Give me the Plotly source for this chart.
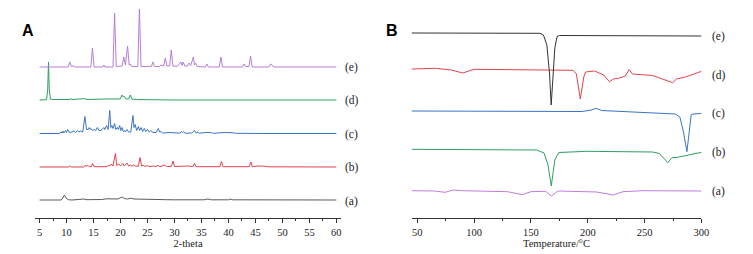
import plotly.graph_objects as go

# ---------------- Panel A: XRD patterns (2-theta, relative intensity) ----------------
xrd_a = [(5, 0), (9.0, 0), (9.3, 2), (9.6, 5), (9.9, 2), (10.3, 0.3), (11, 0), (13.25, 1), (13.6, 0.3),
         (15, 0.3), (16.5, 0.5), (17.4, 1.2), (18.5, 0.8), (19.5, 1), (20.3, 3), (20.7, 1.5), (21.3, 1),
         (21.9, 1.8), (22.5, 1), (23.6, 1), (24.5, 0.8), (25.5, 0.6), (27, 0.5), (28.5, 0.3), (30, 0.2),
         (33, 0), (35.5, 0.2), (36.2, 1), (36.8, 0.2), (40.0, 0.2), (40.3, 1), (40.7, 0.2), (60, 0)]

xrd_b = [(5, 0), (10.3, 0), (10.6, 1), (10.9, 0), (13.2, 0), (13.5, 2), (13.7, 0.5), (13.9, 2), (14.2, 0.3),
         (14.6, 0.3), (14.8, 3.5), (15.1, 0.3), (17.5, 0.3), (17.8, 2), (18.0, 0.8), (18.3, 3), (18.6, 1),
         (19.05, 13.5), (19.3, 1.5), (19.7, 3), (20.0, 1), (20.45, 3.5), (20.7, 1), (21.2, 4), (21.5, 1),
         (21.8, 2), (22.1, 0.8), (22.4, 2), (22.8, 0.8), (23.3, 0.8), (23.6, 9.5), (23.9, 1), (24.25, 2),
         (24.5, 0.5), (25.0, 1.5), (25.3, 0.3), (26.1, 1), (26.4, 0.3), (27.0, 1.5), (27.3, 0.3), (28.2, 2),
         (28.5, 0.5), (29.4, 0.5), (29.75, 6), (30.0, 0.5), (31.6, 1), (32.5, 1), (33.4, 0.5), (33.7, 3.5),
         (34.0, 0.3), (36.0, 0.5), (38.4, 0.3), (38.7, 5.5), (39.0, 0.3), (43.85, 0.3), (44.15, 5),
         (44.45, 0.3), (45.3, 1), (46.6, 0.8), (47.5, 0.2), (60, 0)]

xrd_c = [(5, 0), (8.6, 0), (9.0, 1.5), (9.15, 0.5), (9.3, 2.5), (9.5, 0.5), (9.8, 3), (10.0, 1), (10.2, 4),
         (10.5, 1), (11.0, 1.5), (11.4, 2.5), (11.7, 1), (12.0, 3), (12.3, 1.5), (12.6, 2.5), (13.0, 1.5),
         (13.4, 17), (13.7, 4), (14.0, 4), (14.2, 6), (14.35, 4), (14.5, 5), (14.8, 3), (15.1, 4), (15.4, 3),
         (15.7, 6), (16.0, 3), (16.3, 3), (16.6, 4), (16.9, 6), (17.1, 4), (17.4, 8), (17.7, 4), (18.0, 23),
         (18.2, 6), (18.4, 8), (18.6, 5), (18.9, 10), (19.1, 4), (19.4, 6), (19.6, 4), (19.85, 8),
         (20.05, 3), (20.3, 6), (20.5, 2), (20.7, 3), (20.9, 1.5), (21.2, 4), (21.5, 1.5), (21.9, 1.5),
         (22.3, 18), (22.5, 6), (22.7, 9), (23.0, 3), (23.3, 7), (23.55, 3), (23.8, 6), (24.1, 2), (24.4, 5),
         (24.7, 2), (25.0, 4), (25.3, 1.5), (25.6, 3), (26.0, 1), (26.6, 1), (27.0, 5), (27.25, 1.5),
         (27.5, 2), (27.8, 0.5), (29.1, 1), (29.75, 1), (30.2, 0.3), (30.7, 1), (31.0, 0.3), (31.3, 2),
         (31.45, 1), (31.6, 2), (32, 0.3), (33.2, 0.5), (33.7, 3), (34.0, 0.5), (34.3, 1.2), (34.6, 0.3),
         (35.25, 1), (35.8, 1), (36.7, 1), (37.2, 0.2), (39.2, 1), (40.1, 1), (40.7, 0.8), (41.5, 0.2),
         (43, 0.3), (46, 0), (60, 0)]

xrd_d = [(5, 0), (6.3, 0.3), (6.5, 10), (6.65, 38), (6.8, 10), (7.0, 1), (7.5, 0.5), (10.7, 0.5),
         (10.8, 1.5), (11.0, 0.5), (13.2, 1.3), (14, 0.5), (17.2, 1), (19, 0.8), (19.9, 1), (20.3, 5),
         (20.5, 3), (20.7, 3.5), (21.0, 1), (21.5, 1), (21.8, 5), (22.1, 1), (23, 0.5), (25, 0.3), (30, 0),
         (60, 0)]

xrd_e = [(5, 0), (10.3, 0), (10.6, 5), (10.9, 0.5), (11.3, 1), (11.6, 0), (14.5, 0), (14.8, 19), (15.1, 0),
         (16.7, 0), (16.9, 2), (17.1, 0), (18.6, 0), (18.9, 54), (19.2, 0.5), (20.3, 1), (20.6, 10),
         (20.9, 2), (21.3, 21), (21.6, 2), (21.8, 3), (22.1, 0.5), (23.2, 0.5), (23.5, 58), (23.8, 0.5),
         (25.7, 0.5), (26.0, 5), (26.3, 0.5), (27.2, 0.5), (27.5, 2), (28.0, 1), (28.3, 9), (28.6, 1),
         (29.1, 1), (29.4, 17), (29.7, 1), (30.5, 0.5), (31.2, 5), (31.4, 1.5), (31.6, 5), (31.9, 1),
         (32.4, 1), (32.7, 4), (33.0, 1.5), (33.5, 10), (33.7, 2), (33.9, 4), (34.2, 0.5), (35.7, 0),
         (36.0, 3), (36.3, 0), (38.3, 0), (38.6, 10), (38.9, 0), (42.6, 0), (42.9, 3), (43.2, 0.5),
         (43.8, 0.5), (44.1, 11), (44.4, 0), (47.5, 0), (47.8, 3), (48.1, 2), (48.4, 0), (60, 0)]

# ---------------- Panel B: DSC curves (temperature °C, relative heat flow) ----------------
dsc_a = [(45, 0), (65, -0.3), (74.4, -1.6), (81.6, 0.7), (90, 0), (100.5, -0.3), (129.5, -1), (142.6, -4),
         (149.9, -1), (163, -0.6), (167.9, -5.3), (173, -1), (174.6, -0.3), (208, -1.3), (222.5, -4.3),
         (231, -1), (248.6, 0), (300, -0.3)]

dsc_b = [(45, 0), (100, -0.7), (155, -0.7), (161.5, -3.7), (165, -15.7), (167.9, -36.7), (171, -10.7),
         (174.5, -3.2), (199, -2), (257, -2.7), (263, -4.2), (270.4, -13.4), (274, -8.4), (279, -8),
         (300, -3)]

dsc_c = [(45, 0), (195, -0.5), (203, 1), (207.4, 2.7), (212, 0.5), (250, -1.5), (277, -3), (281, -6),
         (284, -20), (287.2, -40.7), (289.5, -15), (291, -3.3), (300, -2.3)]

dsc_d = [(45, 0), (66, 0.7), (80, -1), (90, -4), (100, -0.3), (187, -1.3), (190, -5), (193.4, -30),
         (196.5, -8), (198, -3), (206, -2), (214, -6), (219, -12.7), (222.5, -10), (227, -9.3), (233, -7),
         (236.4, -0.7), (239.3, -5), (257, -6.5), (267.5, -11), (274.7, -13.7), (278, -10), (286, -8),
         (300, -2.3)]

dsc_e = [(45, 0), (158, -0.3), (161, -2), (164, -12), (166.3, -40), (167.8, -72), (169.5, -42),
         (171, -15), (173, -3.5), (175, -2.5), (300, -3)]

labels = ["(a)", "(b)", "(c)", "(d)", "(e)"]
xrd_ticks = [5, 10, 15, 20, 25, 30, 35, 40, 45, 50, 55, 60]
dsc_ticks = [50, 100, 150, 200, 250, 300]

# ---------------- styling / placement ----------------
xrd_series = [xrd_a, xrd_b, xrd_c, xrd_d, xrd_e]
xrd_colors = ["#5a5a5a", "#e0424f", "#3a74c9", "#2f9e63", "#b57edc"]
xrd_offsets = [18, 51, 84.5, 118, 151]
xrd_label_y = [17, 51, 84, 118, 151]

dsc_series = [dsc_a, dsc_b, dsc_c, dsc_d, dsc_e]
dsc_colors = ["#c07de0", "#2f9e63", "#3a74c9", "#e0424f", "#333333"]
dsc_offsets = [27.3, 68.7, 107, 149, 185]
dsc_label_y = [27, 66, 105, 143, 182]

serif = "Liberation Serif, Times New Roman, serif"

fig = go.Figure()
for s, c, o in zip(xrd_series, xrd_colors, xrd_offsets):
    fig.add_trace(go.Scatter(x=[p[0] for p in s], y=[p[1] + o for p in s], mode="lines",
                             line=dict(color=c, width=1), xaxis="x", yaxis="y", showlegend=False))
for s, c, o in zip(dsc_series, dsc_colors, dsc_offsets):
    fig.add_trace(go.Scatter(x=[p[0] for p in s], y=[p[1] + o for p in s], mode="lines",
                             line=dict(color=c, width=1), xaxis="x2", yaxis="y2", showlegend=False))

annotations = []
for lab, y in zip(labels, xrd_label_y):
    annotations.append(dict(x=347 / 753, y=y, xref="paper", yref="y", text=lab, showarrow=False,
                            xanchor="left", yanchor="middle", font=dict(family=serif, size=11.5, color="#222")))
for lab, y in zip(labels, dsc_label_y):
    annotations.append(dict(x=718 / 753, y=y, xref="paper", yref="y2", text=lab, showarrow=False,
                            xanchor="left", yanchor="middle", font=dict(family=serif, size=11.5, color="#222")))
letter_y = 1 - (31 - 5) / 213
annotations.append(dict(x=28 / 753, y=letter_y, xref="paper", yref="paper", text="<b>A</b>", showarrow=False,
                        xanchor="center", yanchor="middle",
                        font=dict(family="Liberation Sans, Arial, sans-serif", size=16, color="#000")))
annotations.append(dict(x=396 / 753, y=letter_y, xref="paper", yref="paper", text="<b>B</b>", showarrow=False,
                        xanchor="center", yanchor="middle",
                        font=dict(family="Liberation Sans, Arial, sans-serif", size=16, color="#000")))

axis_common = dict(showline=True, linecolor="#333", linewidth=1, ticks="outside", ticklen=4,
                   tickcolor="#333", showgrid=False, zeroline=False,
                   tickfont=dict(family=serif, size=10.5, color="#222"),
                   title_font=dict(family=serif, size=10.5, color="#222"), title_standoff=2)

fig.update_layout(
    width=753, height=254, plot_bgcolor="white", paper_bgcolor="white",
    margin=dict(l=0, r=0, t=5, b=36),
    xaxis=dict(domain=[35 / 753, 345 / 753], range=[4.08, 60.92], anchor="y",
               tickvals=xrd_ticks, title_text="2-theta",
               minor=dict(dtick=2.5, tick0=2.5, ticks="outside", ticklen=2, tickcolor="#333"),
               **axis_common),
    yaxis=dict(domain=[0, 1], range=[0, 213], visible=False),
    xaxis2=dict(domain=[416 / 753, 709 / 753], range=[45, 300], anchor="y2",
                tickvals=dsc_ticks, title_text="Temperature/°C",
                minor=dict(dtick=25, tick0=25, ticks="outside", ticklen=2, tickcolor="#333"),
                **axis_common),
    yaxis2=dict(domain=[0, 1], range=[0, 213], visible=False),
    annotations=annotations,
)

fig.write_html("out.html", config={"displayModeBar": False},
               post_script="document.body.style.margin='0';")
